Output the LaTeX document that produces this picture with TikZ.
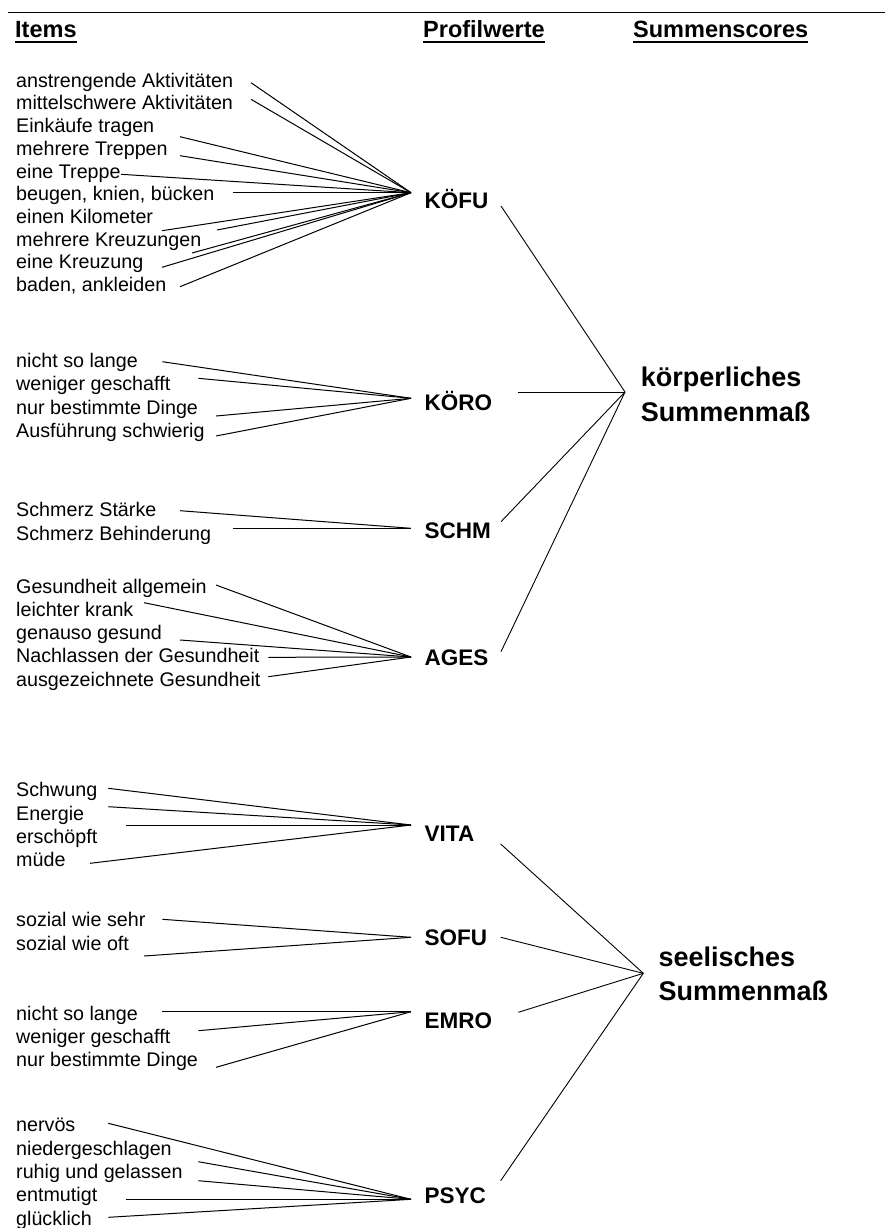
\documentclass[tikz,border=0pt]{standalone}
\usepackage{fontspec}
\setmainfont{Liberation Sans}

\newcommand{\itmfont}{\fontsize{19.7}{23}\selectfont}
\newcommand{\hdrfont}{\fontsize{23.5}{27}\selectfont\bfseries}
\newcommand{\prffont}{\fontsize{22.5}{26}\selectfont\bfseries}
\newcommand{\sumfont}{\fontsize{27}{31}\selectfont\bfseries}

\begin{document}
\begin{tikzpicture}[x=1pt, y=-1pt,
    item/.style={anchor=base west, inner sep=0pt, font=\itmfont},
    hdr/.style={anchor=base west, inner sep=0pt, font=\hdrfont},
    prof/.style={anchor=base west, inner sep=0pt, font=\prffont},
    summ/.style={anchor=base west, inner sep=0pt, font=\sumfont},
    link/.style={line width=1pt},
    sumlink/.style={line width=0.9pt},
    uline/.style={line width=2.4pt}]
        \useasboundingbox (0, 0) rectangle (885, 1228);

        \draw [line width=1.3pt] (8, 12.7) -- (885, 12.7);

        \node [hdr] (items-hdr) at (15, 37.7) {Items};
        \node [hdr] (prof-hdr) at (423, 37.7) {Profilwerte};
        \node [hdr] (summ-hdr) at (633, 37.7) {Summenscores};
        \foreach \h in {items-hdr, prof-hdr, summ-hdr}{
          \draw [uline] ([yshift=-4.6pt]\h.base west) -- ([yshift=-4.6pt]\h.base east);
        }

        \coordinate (kf-in) at (411, 192.7);
        \node [prof] (kf) at (424.5, 208.4) {KÖFU};
        \foreach \i / \txt / \yb / \lx / \ly in {1/anstrengende Aktivitäten/87.3/251/82.7,
            2/mittelschwere Aktivitäten/110/251/99.3, 3/Einkäufe tragen/132.7/180/136.7,
            4/mehrere Treppen/155.4/180/155.7, 5/eine Treppe/178.1/121/174.3,
            6/{beugen, knien, bücken}/200.8/233/192.7, 7/einen Kilometer/223.5/162/230.7,
            8/mehrere Kreuzungen/246.2/192/253, 9/eine Kreuzung/268.9/162/267.3,
            10/{baden, ankleiden}/291.6/180/286.7}{
          \node [item] (kf\i) at (16, \yb) {\txt};
          \coordinate (kf\i-s) at (\lx, \ly);
          \draw [link] (kf\i-s) -- (kf-in);
        }
        \coordinate (kf7-t) at (217, 230);
        \draw [link] (kf7-t) -- (kf-in);

        \coordinate (ko-in) at (411, 398.3);
        \node [prof] (ko) at (424.5, 410) {KÖRO};
        \foreach \i / \txt / \yb / \lx / \ly in {1/nicht so lange/367.3/162.3/361.7,
            2/weniger geschafft/390.7/198.3/378.3, 3/nur bestimmte Dinge/414/216/416,
            4/Ausführung schwierig/437.3/216/436}{
          \node [item] (ko\i) at (16, \yb) {\txt};
          \coordinate (ko\i-s) at (\lx, \ly);
          \draw [link] (ko\i-s) -- (ko-in);
        }

        \coordinate (sc-in) at (411, 528.3);
        \node [prof] (sc) at (424.5, 538.3) {SCHM};
        \foreach \i / \txt / \yb / \lx / \ly in {1/Schmerz Stärke/516.7/180/510.7,
            2/Schmerz Behinderung/540.7/233.3/528.3}{
          \node [item] (sc\i) at (16, \yb) {\txt};
          \coordinate (sc\i-s) at (\lx, \ly);
          \draw [link] (sc\i-s) -- (sc-in);
        }

        \coordinate (ag-in) at (411, 657);
        \node [prof] (ag) at (424.5, 665) {AGES};
        \foreach \i / \txt / \yb / \lx / \ly in {1/Gesundheit allgemein/593.3/216/585,
            2/leichter krank/616.3/144/602.7, 3/genauso gesund/639.3/180/640,
            4/Nachlassen der Gesundheit/662.7/268.3/657.3,
            5/ausgezeichnete Gesundheit/686/268.3/676.7}{
          \node [item] (ag\i) at (16, \yb) {\txt};
          \coordinate (ag\i-s) at (\lx, \ly);
          \draw [link] (ag\i-s) -- (ag-in);
        }

        \coordinate (kp-in) at (625, 392);
        \node [summ] (kp1) at (640.7, 386) {körperliches};
        \node [summ] (kp2) at (640.7, 421) {Summenmaß};
        \foreach \p / \lx / \ly in {kf/501/206, ko/518/392, sc/501/521.7, ag/501/651.7}{
          \coordinate (\p-out) at (\lx, \ly);
          \draw [sumlink] (\p-out) -- (kp-in);
        }

        \coordinate (vi-in) at (411, 825);
        \node [prof] (vi) at (424.5, 841.7) {VITA};
        \foreach \i / \txt / \yb / \lx / \ly in {1/Schwung/796.7/108.3/788.3,
            2/Energie/820/108.3/806.7, 3/erschöpft/843.3/126/825, 4/müde/866.7/90/863.3}{
          \node [item] (vi\i) at (16, \yb) {\txt};
          \coordinate (vi\i-s) at (\lx, \ly);
          \draw [link] (vi\i-s) -- (vi-in);
        }

        \coordinate (so-in) at (411, 937.3);
        \node [prof] (so) at (424.5, 945) {SOFU};
        \foreach \i / \txt / \yb / \lx / \ly in {1/sozial wie sehr/926.7/162.3/919.3,
            2/sozial wie oft/950/144/956}{
          \node [item] (so\i) at (16, \yb) {\txt};
          \coordinate (so\i-s) at (\lx, \ly);
          \draw [link] (so\i-s) -- (so-in);
        }

        \coordinate (em-in) at (411, 1011.7);
        \node [prof] (em) at (424.5, 1028.3) {EMRO};
        \foreach \i / \txt / \yb / \lx / \ly in {1/nicht so lange/1020/162.3/1011.7,
            2/weniger geschafft/1043.3/198.3/1030.7, 3/nur bestimmte Dinge/1066.7/216/1067.3}{
          \node [item] (em\i) at (16, \yb) {\txt};
          \coordinate (em\i-s) at (\lx, \ly);
          \draw [link] (em\i-s) -- (em-in);
        }

        \coordinate (ps-in) at (411, 1199.3);
        \node [prof] (ps) at (424.5, 1203) {PSYC};
        \foreach \i / \txt / \yb / \lx / \ly in {1/nervös/1131.7/108.3/1123.3,
            2/niedergeschlagen/1155/198.3/1161.7, 3/ruhig und gelassen/1178.3/198.3/1180.7,
            4/entmutigt/1201.7/126/1199.3, 5/glücklich/1225/108.3/1217.3}{
          \node [item] (ps\i) at (16, \yb) {\txt};
          \coordinate (ps\i-s) at (\lx, \ly);
          \draw [link] (ps\i-s) -- (ps-in);
        }

        \coordinate (se-in) at (643.3, 973.3);
        \node [summ] (se1) at (658.3, 966.7) {seelisches};
        \node [summ] (se2) at (658.3, 1000) {Summenmaß};
        \foreach \p / \lx / \ly in {vi/500.7/844, so/500.7/937.3, em/518.3/1012.3, ps/500.7/1180.7}{
          \coordinate (\p-out) at (\lx, \ly);
          \draw [sumlink] (\p-out) -- (se-in);
        }
      \end{tikzpicture}
\end{document}
